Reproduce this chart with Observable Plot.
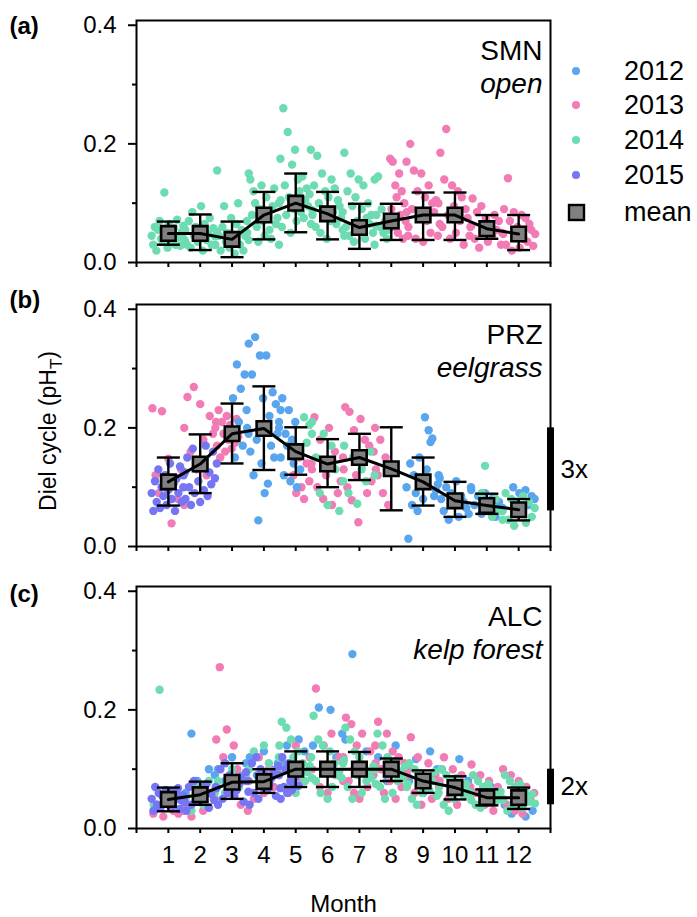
<!DOCTYPE html>
<html><head><meta charset="utf-8">
<script src="https://cdn.jsdelivr.net/npm/d3@7"></script>
<script src="https://cdn.jsdelivr.net/npm/@observablehq/plot@0.6"></script>
<style>
body{margin:0;background:#fff;}
#wrap{position:relative;width:697px;height:917px;background:#fff;font-family:"Liberation Sans",Arial,sans-serif;}
#wrap > svg{position:absolute;left:0;}
</style></head><body><div id="wrap"></div>
<script>
// ---------- data ----------
const months = [1,2,3,4,5,6,7,8,9,10,11,12];
const years = ["2012","2013","2014","2015"];
const yearColors = ["#5aa6ee","#f27bb5","#6edcb1","#7676f5"];
const xTickLabels = ["","1","2","3","4","5","6","7","8","9","10","11","12",""];
const majorY = [0,0.2,0.4];
const minorY = [0.1,0.3];

// monthly mean and +/- SD (pH_T)
const smnMean = [0.049,0.049,0.039,0.080,0.100,0.082,0.059,0.070,0.080,0.080,0.057,0.048];
const smnLo   = [0.030,0.021,0.009,0.039,0.051,0.039,0.023,0.038,0.038,0.038,0.040,0.021];
const smnHi   = [0.069,0.081,0.069,0.119,0.150,0.119,0.099,0.099,0.118,0.118,0.080,0.080];
const przMean = [0.109,0.139,0.190,0.199,0.160,0.139,0.150,0.131,0.109,0.077,0.069,0.062];
const przLo   = [0.069,0.090,0.140,0.129,0.121,0.100,0.112,0.061,0.069,0.050,0.055,0.044];
const przHi   = [0.150,0.189,0.241,0.270,0.201,0.181,0.190,0.201,0.150,0.109,0.089,0.080];
const alcMean = [0.049,0.057,0.078,0.079,0.100,0.100,0.100,0.100,0.080,0.069,0.052,0.052];
const alcLo   = [0.029,0.040,0.050,0.060,0.070,0.070,0.070,0.080,0.060,0.049,0.039,0.033];
const alcHi   = [0.069,0.079,0.110,0.100,0.130,0.130,0.129,0.118,0.098,0.088,0.066,0.069];

// daily diel cycles (x 0.001), [month, values, startFrac, endFrac]
const smn2014 = [
 [1,[45,30,60,20,55,70,40,35,118,50,25,65,48,38,58,30,72,42,28,52,62,36]],
 [2,[40,55,30,70,25,85,45,60,35,50,95,20,65,38,48,75,30,58,44,52]],
 [3,[30,155,45,20,60,95,35,50,25,75,40,15,65,100,30,55,20,45,70,38]],
 [4,[50,150,140,80,120,100,60,35,90,130,70,45,110,85,55,40,95,125,65,75,30,105]],
 [5,[100,175,60,260,130,80,220,110,50,165,90,190,70,140,120,85,145,75,105,125,95,115,65,88]],
 [6,[190,80,130,60,180,100,50,150,90,120,40,110,70,140,85,125,65,105,95,75,55,45]],
 [7,[85,185,60,120,45,150,95,35,110,70,140,55,90,130,40,75,100,65,80,50,30,62]],
 [8,[140,80,145,60,90,50,70,40,55],0,0.45]
];
const smn2013 = [
 [8,[175,90,170,60,130,110,50,150,80,120,40,100,70,85,45],0.45,1],
 [9,[170,60,200,90,155,40,120,80,150,35,110,70,130,50,100,85,105,45,65]],
 [10,[100,185,60,140,225,80,40,130,95,50,120,70,110,30,90,75,45,62]],
 [11,[60,108,40,85,25,95,50,75,35,65,45,80,55,70,30,48]],
 [12,[50,90,30,142,70,20,85,45,60,25,80,40,75,35,65,55,28,48]]
];
const prz2013 = [
 [1,[233,120,90,228,100,148,39,110,80,130,70]],
 [2,[200,252,160,269,140,240,180,120,220,190,210]],
 [3,[200,170,230,150,210,190,160,220,180,205,165,195,175,215,185],0,0.7],
 [5,[120,90,150,100,80,140,110,130],0.4,1],
 [6,[140,218,100,180,80,120,200,70,160,90,110,130]],
 [7,[150,235,100,227,78,196,120,41,215,140,180,90,170,110,160,130]],
 [8,[200,120,180,90,150,70],0,0.45]
];
const prz2012 = [
 [3,[250,150,307,210,266,170,290,230,190],0.5,1],
 [4,[200,342,160,290,120,353,180,44,322,140,250,90,322,106,220,170,260,150,240,190,210,230]],
 [5,[200,150,250,120,190,170,230,110,180,140,210,100,160,130],0,0.65],
 [9,[100,13,140,70,120,90,60,150,110,80,218,130,196,176,182,85,95,105,115]],
 [10,[120,80,60,100,45,90,70,110,50,85,75,65,55,95]],
 [11,[100,70,85,55,90,60,80,50,75,65]],
 [12,[100,75,90,60,95,70,85,80],0.3,1]
];
const prz2014 = [
 [5,[218,175,205,190],0.7,1],
 [6,[210,150,90,190,70,170,130,60,110]],
 [7,[170,90,150,72,130,110,160,120]],
 [11,[90,136,70,50,80,60,45],0.3,1],
 [12,[60,90,45,80,35,70,55,85,40,75,50,65]]
];
const prz2015 = [
 [1,[90,60,110,75,130,65,100,85,120,70,95,140,80,105,60,115,90,135,75,100,125]],
 [2,[120,80,150,100,70,165,90,130,110,75,145,95,170,85,125,105,160,115,140]]
];
const alc2012 = [
 [1,[40,60,50]],[2,[60,160,80,70,100,90]],[3,[100,80,120,90,110]],[4,[120,90,130,100,110]],
 [5,[110,140,100,150,130,120]],[6,[140,204,100,200,120,160]],[7,[150,294,110,130,90]],
 [8,[120,80,140,100]],[9,[80,117,60,130,100]],[10,[100,60,117,80]],[11,[60,40,70,50]],[12,[40,25,50,20,30]]
];
const alc2013 = [
 [1,[25,35,20,40,30,25,30]],[2,[40,20,70,30,60,50]],[3,[150,272,120,167,60,140,100,40,80,30]],
 [4,[80,50,120,60,100,70,90]],[5,[100,60,140,80,120]],[6,[100,236,70,140,60,160,90,120,80]],
 [7,[120,187,80,176,60,140,50,160,100,70,130,90,110]],[8,[140,180,100,60,160,80,130,50,120,70,110,90]],
 [9,[100,154,60,120,40,80,110,50,90,70]],[10,[80,120,50,100,40,90,60,70]],
 [11,[108,60,90,40,80,30,70,50]],[12,[100,40,90,30,80,25,70,50,60]]
];
const alc2014 = [
 [1,[40,234,60,45,50,55]],[2,[50,30,70,40,80,60]],[3,[80,60,100,70,90]],[4,[100,130,80,140,110,90,120]],
 [5,[140,180,100,170,70,150,120,60,130,90,110,80,95,105,85]],[6,[120,190,80,150,60,140,100,50,130,70,110,90,95,85,115]],
 [7,[110,170,70,150,50,130,90,120,60,100,80,95,85,105,75]],[8,[100,160,70,140,50,120,90,60,110,80,95,85,105,75]],
 [9,[70,110,50,100,40,90,60,85,75,65,80,95,55,72]],[10,[60,100,40,90,30,80,50,85,70,65,55,75,62,48]],
 [11,[60,90,40,80,35,70,50,75,65,55,45,58,62,48]],[12,[50,90,30,80,40,70,60,75,35,65,55,45,58,42]]
];
const alc2015 = [
 [1,[50,30,70,40,60,35,55,45,65,42,52,62,38,48,58,68,33,47,56,44]],[2,[50,30,70,40,80,60,45,55,65,75,35,58,48,68]],
 [3,[70,40,100,50,110,60,90,80,55,65,75,85,45,95,62]],[4,[80,40,110,60,120,50,100,70,90,65,75,85,95,55,105,68]],
 [5,[90,50,120,70,100,60,110,80,65,75,85,95,72],0,0.6]
];
const scaleBarPRZ = [{lo:0.06, hi:0.20, label:"3x"}];
const scaleBarALC = [{lo:0.04, hi:0.10, label:"2x"}];

// ---------- helpers ----------
function toPoints(year, chunks){
  const out = [];
  for (const [m, vals, s = 0, e = 1] of chunks){
    const n = vals.length;
    vals.forEach((v, i) => {
      const f = s + (e - s) * (i + 0.5) / n;
      out.push({year, x: m - 0.55 + 1.1 * f, v: v / 1000});
    });
  }
  return out;
}
function toStats(mean, lo, hi){
  return months.map((m, i) => ({month: m, mean: mean[i], lo: lo[i], hi: hi[i]}));
}
const cap = {draw(ctx){ ctx.moveTo(-11.5, 0); ctx.lineTo(11.5, 0); }};
const xDomain = [0, 13], yDomain = [0, 0.408];
const FONT = '"Liberation Sans", Arial, sans-serif';

function panel({points, stats, site, habitat, tag, tagDy, bar, showX, height, marginTop, marginBottom}){
  const marks = [
    Plot.dot(points, {x: "x", y: "v", fill: "year", r: 4.2}),
    Plot.ruleX(stats, {x: "month", y1: "lo", y2: "hi", stroke: "black", strokeWidth: 2.4}),
    Plot.dot(stats, {x: "month", y: "lo", symbol: cap, fill: "none", stroke: "black", strokeWidth: 2.4}),
    Plot.dot(stats, {x: "month", y: "hi", symbol: cap, fill: "none", stroke: "black", strokeWidth: 2.4}),
    Plot.dot(stats, {x: "month", y: "mean", symbol: "square", r: 8.2, fill: "#808080", stroke: "black", strokeWidth: 2.6}),
    Plot.line(stats, {x: "month", y: "mean", stroke: "black", strokeWidth: 3}),
    Plot.frame({stroke: "black", strokeWidth: 2}),
    Plot.axisY({ticks: majorY, tickSize: 8, tickPadding: 12, tickFormat: d3.format(".1f"), fontSize: 24, strokeWidth: 2, label: null}),
    Plot.axisY({ticks: minorY, tickSize: 4, tickFormat: () => "", strokeWidth: 2, label: null}),
    Plot.axisX({ticks: d3.range(0, 14), tickSize: 5, tickPadding: 12, fontSize: 24, strokeWidth: 2, label: null,
      tickFormat: d => showX ? xTickLabels[d] : ""}),
    Plot.text([site], {frameAnchor: "top-right", dx: -8, dy: 31, fontSize: 28, textAnchor: "end", lineAnchor: "middle"}),
    Plot.text([habitat], {frameAnchor: "top-right", dx: -8, dy: 64, fontSize: 28, fontStyle: "italic", textAnchor: "end", lineAnchor: "middle"}),
    Plot.text([tag], {frameAnchor: "top-left", dx: -127, dy: tagDy, fontSize: 24, fontWeight: "bold", textAnchor: "start", lineAnchor: "middle"})
  ];
  if (bar){
    marks.push(Plot.ruleX(bar, {x: xDomain[1], y1: "lo", y2: "hi", stroke: "black", strokeWidth: 7}));
    marks.push(Plot.text(bar, {x: xDomain[1], y: d => (d.lo + d.hi) / 2, text: "label", dx: 10, textAnchor: "start", fontSize: 26}));
  }
  if (showX) marks.push(Plot.text(["Month"], {frameAnchor: "bottom", dy: 76, fontSize: 24, lineAnchor: "middle"}));
  return Plot.plot({
    width: 697, height, marginLeft: 136, marginRight: 147, marginTop, marginBottom,
    x: {domain: xDomain}, y: {domain: yDomain},
    color: {domain: years, range: yearColors},
    style: {fontFamily: FONT, background: "white", color: "black", overflow: "visible"},
    marks
  });
}

const wrap = document.getElementById("wrap");
const pa = panel({
  points: [...toPoints("2014", smn2014), ...toPoints("2013", smn2013)],
  stats: toStats(smnMean, smnLo, smnHi), site: "SMN", habitat: "open", tag: "(a)", tagDy: 6,
  showX: false, height: 284, marginTop: 20, marginBottom: 22
});
pa.style.top = "0px"; wrap.appendChild(pa);
const pb = panel({
  points: [...toPoints("2013", prz2013), ...toPoints("2012", prz2012), ...toPoints("2014", prz2014), ...toPoints("2015", prz2015)],
  stats: toStats(przMean, przLo, przHi), site: "PRZ", habitat: "eelgrass", tag: "(b)", tagDy: -4,
  bar: scaleBarPRZ, showX: false, height: 284, marginTop: 20, marginBottom: 22
});
pb.style.top = "284px"; wrap.appendChild(pb);
const pc = panel({
  points: [...toPoints("2012", alc2012), ...toPoints("2013", alc2013), ...toPoints("2014", alc2014), ...toPoints("2015", alc2015)],
  stats: toStats(alcMean, alcLo, alcHi), site: "ALC", habitat: "kelp forest", tag: "(c)", tagDy: 8,
  bar: scaleBarALC, showX: true, height: 349, marginTop: 18, marginBottom: 89
});
pc.style.top = "568px"; wrap.appendChild(pc);

// y-axis title
const yt = d3.select(wrap).append("svg").attr("width", 80).attr("height", 300)
  .style("top", "285px").style("left", "0px").style("overflow", "visible");
const t = yt.append("text").attr("transform", "translate(56,146) rotate(-90)")
  .attr("text-anchor", "middle").attr("font-family", FONT).attr("font-size", 23).attr("fill", "black");
t.append("tspan").text("Diel cycle (pH");
t.append("tspan").text("T").attr("font-size", 17).attr("dy", 6);
t.append("tspan").text(")").attr("dy", -6);

// legend
const lg = d3.select(wrap).append("svg").attr("width", 137).attr("height", 190)
  .style("top", "50px").style("left", "560px");
const legendRows = years.map((y, i) => ({label: y, color: yearColors[i]}));
legendRows.forEach((d, i) => {
  const cy = [21, 55, 90, 125][i];
  lg.append("circle").attr("cx", 16).attr("cy", cy).attr("r", 4).attr("fill", d.color);
  lg.append("text").attr("x", 64).attr("y", cy).attr("dy", "0.35em").attr("font-family", FONT)
    .attr("font-size", 27).text(d.label);
});
lg.append("rect").attr("x", 9).attr("y", 155).attr("width", 15).attr("height", 15)
  .attr("fill", "#808080").attr("stroke", "black").attr("stroke-width", 2.4);
lg.append("text").attr("x", 64).attr("y", 162).attr("dy", "0.35em").attr("font-family", FONT)
  .attr("font-size", 27).text("mean");
</script></body></html>
